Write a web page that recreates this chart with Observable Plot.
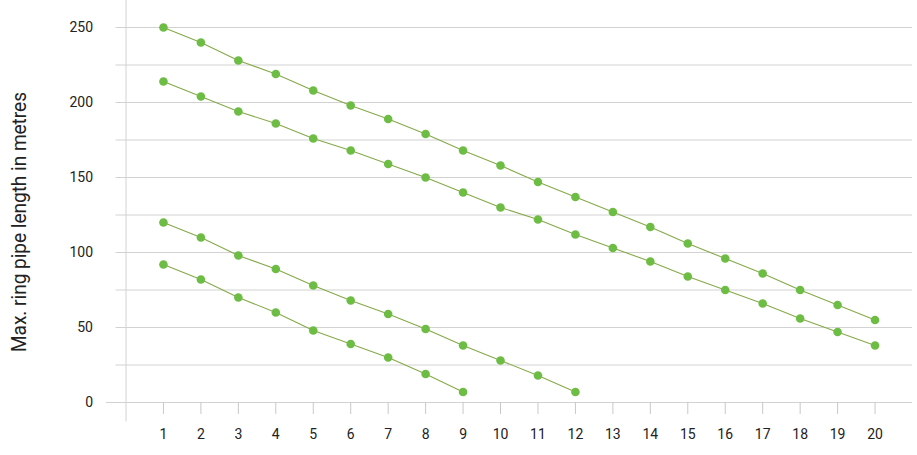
<!DOCTYPE html>
<html><head><meta charset="utf-8">
<script src="https://cdn.jsdelivr.net/npm/d3@7"></script>
<script src="https://cdn.jsdelivr.net/npm/@observablehq/plot@0.6"></script>
<style>
body{margin:0;background:#fff}
#chart{position:relative;width:917px;height:455px}
#ytitle{position:absolute;left:0;top:0;white-space:nowrap;font-family:Roboto,'Open Sans',sans-serif;font-size:21px;color:#222;line-height:1;transform-origin:0 0}
</style>
</head><body><div id="chart"><span id="ytitle"></span></div>
<script>
const xTicks = [1,2,3,4,5,6,7,8,9,10,11,12,13,14,15,16,17,18,19,20];
const yTicks = [0,50,100,150,200,250];
const gridValues = [25,50,75,100,125,150,175,200,225,250];
const yTitle = "Max. ring pipe length in metres";

const seriesA = [250,240,228,219,208,198,189,179,168,158,147,137,127,117,106,96,86,75,65,55];
const seriesB = [214,204,194,186,176,168,159,150,140,130,122,112,103,94,84,75,66,56,47,38];
const seriesC = [120,110,98,89,78,68,59,49,38,28,18,7];
const seriesD = [92,82,70,60,48,39,30,19,7];

const seriesList = [["A", seriesA], ["B", seriesB], ["C", seriesC], ["D", seriesD]];
const rows = seriesList.flatMap(([name, vals]) => vals.map((v, i) => ({series: name, x: xTicks[i], y: v})));

const font = "Roboto,'Open Sans',sans-serif";
const chart = Plot.plot({
  width: 917,
  height: 455,
  marginLeft: 125.5,
  marginRight: 5,
  marginTop: 0,
  marginBottom: 53,
  style: {fontFamily: font, color: "#222", background: "#fff"},
  x: {domain: [0, 21]},
  y: {domain: [0, 268]},
  marks: [
    Plot.ruleY(gridValues, {stroke: "#d2d2d2", strokeWidth: 1, insetLeft: -10}),
    Plot.ruleY([0], {stroke: "#d2d2d2", strokeWidth: 1, insetLeft: -19.5}),
    Plot.ruleX([0], {stroke: "#d2d2d2", strokeWidth: 1, insetBottom: -19.5}),
    Plot.axisX(xTicks, {tickSize: 12, tickPadding: 15, stroke: "#c8c8c8", fill: "#222", fontSize: 14, label: null}),
    Plot.axisY(yTicks, {tickSize: 0, tickPadding: 33, fontSize: 14, label: null, fill: "#222"}),
    Plot.line(rows, {x: "x", y: "y", z: "series", stroke: "#86a94a", strokeWidth: 1.1}),
    Plot.dot(rows, {x: "x", y: "y", r: 4.3, fill: "#6dbd45", stroke: "none"})
  ]
});
const holder = document.getElementById("chart");
holder.insertBefore(chart, holder.firstChild);
chart.style.display = "block";

// rotated y-axis title, centred at (19.5, 222), length ~260px
const t = document.getElementById("ytitle");
t.textContent = yTitle;
const w = t.getBoundingClientRect().width;
const h = t.getBoundingClientRect().height;
const s = 260 / w;
const cx = 19.5, cy = 222;
t.style.transform = `translate(${cx - h / 2}px, ${cy + (w * s) / 2}px) rotate(-90deg) scaleX(${s})`;
</script>
</body></html>
